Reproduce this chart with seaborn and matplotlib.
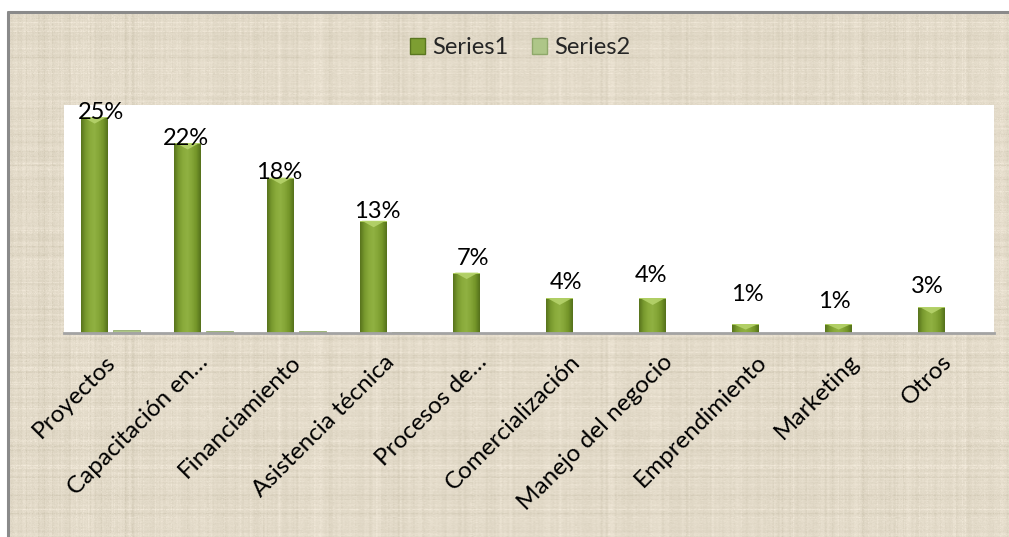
import numpy as np
import pandas as pd
import matplotlib
matplotlib.use("Agg")
import matplotlib.pyplot as plt
import matplotlib.transforms as mtransforms
from matplotlib.patches import Patch, Polygon, Rectangle
from matplotlib.colors import LinearSegmentedColormap
import seaborn as sns

# ---- data -------------------------------------------------------------
categories = ["Proyectos", "Capacitación en…", "Financiamiento", "Asistencia técnica",
              "Procesos de…", "Comercialización", "Manejo del negocio",
              "Emprendimiento", "Marketing", "Otros"]
series1 = [25, 22, 18, 13, 7, 4, 4, 1, 1, 3]
series2 = [0.3, 0.25, 0.2, 0.1, 0, 0, 0, 0, 0, 0]
series_names = ["Series1", "Series2"]

# hand-placed data label nudges (pixels: right, up from bar top)
label_dx = [6, -2, -2, 3.5, 6, 6.5, -1.5, 1.5, -4, -4]
label_dy = [-2, -2, -1, 3, 8, 9, 16, 23, 16, 14]

df = pd.DataFrame({
    "categoria": categories * 2,
    "serie": [series_names[0]] * len(categories) + [series_names[1]] * len(categories),
    "valor": series1 + series2,
})

sns.set_theme(style="white")
plt.rcParams["font.family"] = ["Lato", "DejaVu Sans"]

W, H, DPI = 1009, 537, 100
fig = plt.figure(figsize=(W / DPI, H / DPI), dpi=DPI, facecolor="white")

# ---- linen-like chart area background ----------------------------------
bx0, by0 = 8, 12
bg_ax = fig.add_axes([bx0 / W, -0.01, 1.02 - bx0 / W, 1.01 - by0 / H], zorder=-5)
rng = np.random.default_rng(11)
th, tw = H - by0 + 6, W - bx0 + 20
rows = rng.normal(0, 1, th)
cols = rng.normal(0, 1, tw)
rows = np.convolve(rows, np.ones(2) / 2, mode="same")
cols = np.convolve(cols, np.ones(2) / 2, mode="same")
# sparse light and dark threads
row_thr = np.where(rng.random(th) < 0.12, rng.choice([-1.6, 1.8], th), 0)
col_thr = np.where(rng.random(tw) < 0.12, rng.choice([-1.6, 1.8], tw), 0)
weave = (0.5 * rows[:, None] + 0.5 * cols[None, :]
         + 0.6 * row_thr[:, None] * (rng.random((th, tw)) < 0.7)
         + 0.6 * col_thr[None, :] * (rng.random((th, tw)) < 0.7)
         + 0.3 * rng.normal(0, 1, (th, tw)))
weave = np.clip(weave, -2.5, 2.5) / 2.5
base = np.array([0.888, 0.855, 0.786])
img = np.clip(base[None, None, :] + 0.065 * weave[:, :, None] * np.array([1.0, 1.0, 1.15]), 0, 1)
bg_ax.imshow(img, aspect="auto", interpolation="bilinear", extent=[0, 1, 0, 1])
bg_ax.set_axis_off()

# chart frame: visible on the left and top edges
fig.add_artist(plt.Line2D([bx0 / W, bx0 / W], [0, 1 - by0 / H], color="#8a8a8a", lw=2.2))
fig.add_artist(plt.Line2D([bx0 / W, 1], [1 - by0 / H, 1 - by0 / H], color="#8a8a8a", lw=2.2))

# ---- plot area --------------------------------------------------------
px0, px1, py0, py1 = 64, 994, 105, 333
ax = fig.add_axes([px0 / W, 1 - py1 / H, (px1 - px0) / W, (py1 - py0) / H])
ax.set_facecolor("white")

sns.barplot(data=df, x="categoria", y="valor", hue="serie", order=categories,
            hue_order=series_names, palette=["#7d9e32", "#aec688"],
            width=0.68, gap=0.15, legend=False, ax=ax, saturation=1)

ymax = 26.4
ax.set_xlim(-0.5, len(categories) - 0.5)
ax.set_ylim(0, ymax)

# cylinder-like shading on the main series
shade = LinearSegmentedColormap.from_list(
    "shade", ["#58741d", "#78992e", "#8aab3b", "#90b142", "#85a637", "#749529", "#55711c"])
grad = np.linspace(0, 1, 64)[None, :]
px_per_unit = (py1 - py0) / ymax
for bar in ax.containers[0]:
    x, y = bar.get_x(), bar.get_y()
    w, h = bar.get_width(), bar.get_height()
    bar.set_edgecolor("none")
    im = ax.imshow(grad, cmap=shade, aspect="auto", extent=[x, x + w, y, y + h],
                   zorder=bar.get_zorder() + 0.1, interpolation="bilinear")
    im.set_clip_path(bar)
    bev = min(6.5 / px_per_unit, h * 0.6)
    tri = Polygon([[x + 0.06 * w, y + h], [x + 0.94 * w, y + h], [x + w / 2, y + h - bev]],
                  closed=True, facecolor="#b8d56e", edgecolor="none", alpha=0.85,
                  zorder=bar.get_zorder() + 0.2)
    ax.add_patch(tri)
    ax.add_patch(Rectangle((x, y + h - 0.12), w, 0.12, facecolor="#a9c95a",
                           edgecolor="none", zorder=bar.get_zorder() + 0.15))

for bar in ax.containers[1]:
    bar.set_edgecolor("#93ad6c")
    bar.set_linewidth(0.6)

ax.set_xlim(-0.5, len(categories) - 0.5)
ax.set_ylim(0, ymax)

# data labels
for bar, v, dx, dy in zip(ax.containers[0], series1, label_dx, label_dy):
    cx = bar.get_x() + bar.get_width() / 2
    ax.annotate(f"{v}%", xy=(cx, v), xytext=(dx * 0.72, dy * 0.72),
                textcoords="offset points", ha="center", va="baseline",
                fontsize=17, color="black", annotation_clip=False, zorder=10)

# axes cosmetics
for side in ["top", "right", "left"]:
    ax.spines[side].set_visible(False)
ax.spines["bottom"].set_color("#a3a3a3")
ax.spines["bottom"].set_linewidth(2.0)
ax.set_yticks([])
ax.set_xlabel("")
ax.set_ylabel("")
ax.set_xticks(range(len(categories)))
ax.set_xticklabels(categories, rotation=45, ha="right", rotation_mode="anchor",
                   fontsize=17.5, color="black")
ax.tick_params(axis="x", length=0, pad=13)
shift = mtransforms.ScaledTranslation(-6 / DPI, 0, fig.dpi_scale_trans)
for lbl in ax.get_xticklabels():
    lbl.set_transform(lbl.get_transform() + shift)

# legend
handles = [Patch(facecolor="#7d9e32", edgecolor="#5a7620", label=series_names[0]),
           Patch(facecolor="#aec688", edgecolor="#8fa86a", label=series_names[1])]
fig.legend(handles=handles, loc="center", bbox_to_anchor=(520 / W, 1 - 48 / H),
           ncol=2, frameon=False, fontsize=17, handlelength=0.65, handleheight=0.65,
           handletextpad=0.3, columnspacing=1.0)

fig.savefig("out.png", dpi=DPI, facecolor="white")
